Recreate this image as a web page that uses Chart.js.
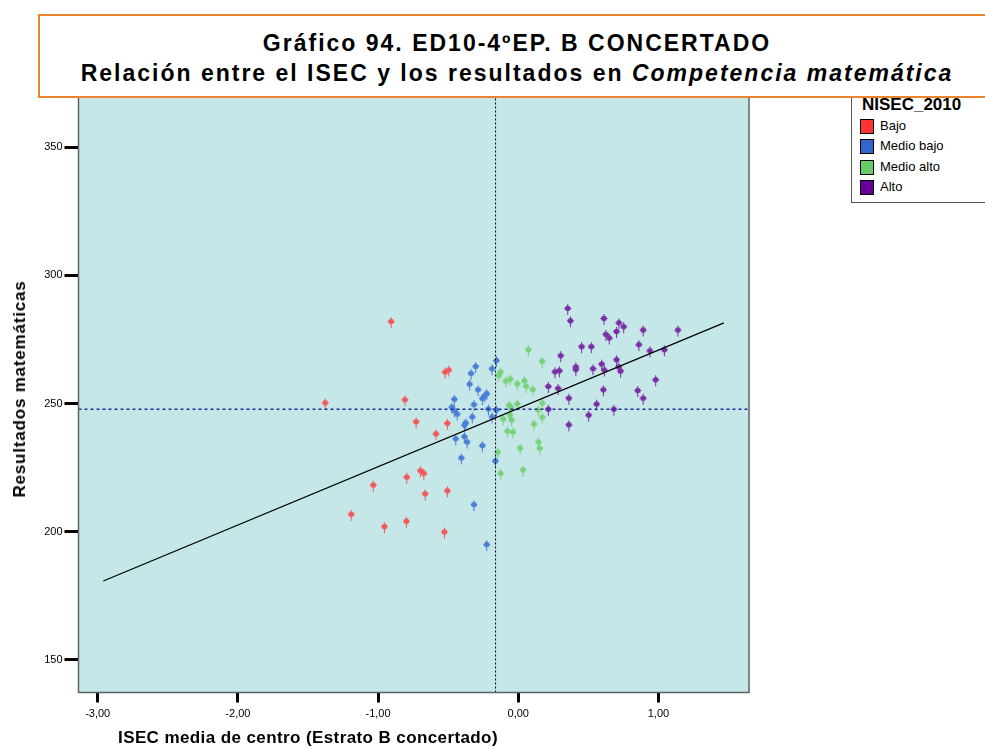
<!DOCTYPE html>
<html>
<head>
<meta charset="utf-8">
<script src="https://cdn.jsdelivr.net/npm/chart.js@4.4.1/dist/chart.umd.min.js"></script>
<style>
  body { margin: 0; background: #fff; font-family: "Liberation Sans", Arial, sans-serif; }
  #wrap { position: relative; width: 985px; height: 749px; overflow: hidden; }
  #chart { position: absolute; left: 0; top: 0; }
  #title {
    position: absolute; left: 38px; top: 14px; width: 954px; height: 68px;
    border: 2px solid #e8842c; background: #fff; text-align: center;
    font-weight: bold; font-size: 23px; line-height: 30px; padding-top: 12px;
    letter-spacing: 2px;
  }
  #title div { white-space: nowrap; }
  #legend {
    position: absolute; left: 851px; top: 90px; width: 150px; height: 111px;
    border: 1px solid #555; background: #fff;
  }
  #legend .head { position: absolute; left: 10px; top: 4px; font-weight: bold; font-size: 17px; line-height: 20px; }
  #legend .item { position: absolute; left: 8px; height: 14px; font-size: 13px; line-height: 14px; }
  #legend .sw { display: inline-block; width: 12px; height: 13px; border: 1px solid #000; vertical-align: top; margin-right: 6px; }
  .axisTitle { position: absolute; font-weight: bold; font-size: 17px; white-space: nowrap; }
</style>
</head>
<body>
<div id="wrap">
  <canvas id="chart" width="985" height="749"></canvas>
  <div id="legend">
    <div class="head">NISEC_2010</div>
  </div>
  <div id="title">
    <div>Gráfico 94. ED10-4ºEP. B CONCERTADO</div>
    <div>Relación entre el ISEC y los resultados en <i>Competencia matemática</i></div>
  </div>
  <div class="axisTitle" id="ytitle" style="left:20px; top:389px; letter-spacing:0.8px; transform: translate(-50%,-50%) rotate(-90deg);">Resultados matemáticas</div>
  <div class="axisTitle" id="xtitle" style="left:308px; top:738px; letter-spacing:0.4px; transform: translate(-50%,-50%);">ISEC media de centro (Estrato B concertado)</div>
</div>
<script>
// groups of NISEC_2010
const groupNames = ['Bajo', 'Medio bajo', 'Medio alto', 'Alto'];

const bajoX = [-1.377, -0.907, -0.808, -0.729, -0.587, -0.522, -0.496, -0.506, -0.698, -0.674, -0.795, -1.034, -0.664, -1.192, -0.955, -0.798, -0.506, -0.527];
const bajoY = [250.3, 282.0, 251.5, 242.9, 238.2, 262.3, 263.1, 242.3, 223.8, 222.8, 221.3, 218.2, 214.8, 206.8, 202.0, 204.1, 216.0, 199.9];

const medioBajoX = [-0.156, -0.304, -0.187, -0.337, -0.347, -0.287, -0.225, -0.239, -0.256, -0.456, -0.316, -0.474, -0.456, -0.436, -0.213, -0.156, -0.328, -0.187, -0.375, -0.384, -0.446, -0.384, -0.365, -0.256, -0.406, -0.163, -0.316, -0.225];
const medioBajoY = [266.8, 264.5, 263.6, 261.8, 257.6, 255.4, 253.9, 253.0, 252.0, 251.7, 249.6, 248.6, 247.2, 245.9, 247.9, 247.5, 244.8, 244.8, 242.5, 241.6, 236.3, 237.1, 235.0, 233.6, 228.8, 227.6, 210.6, 195.0];

const medioAltoX = [0.072, 0.171, -0.126, -0.142, -0.088, -0.057, -0.007, 0.044, 0.056, 0.104, -0.066, -0.052, -0.007, -0.107, -0.059, -0.047, 0.171, 0.143, 0.171, 0.112, -0.078, -0.038, 0.013, 0.143, 0.153, -0.147, -0.126, 0.034];
const medioAltoY = [271.0, 266.5, 262.3, 261.0, 258.8, 259.6, 257.7, 258.9, 256.7, 255.5, 249.4, 248.4, 249.9, 244.0, 245.5, 243.6, 250.2, 247.5, 244.7, 242.0, 239.3, 238.9, 232.6, 235.0, 232.6, 231.0, 222.8, 224.1];

const altoX = [0.353, 0.372, 0.611, 0.718, 0.752, 0.625, 0.649, 0.701, 0.891, 1.139, 0.452, 0.521, 0.860, 0.939, 1.042, 0.303, 0.701, 0.411, 0.411, 0.533, 0.595, 0.614, 0.262, 0.293, 0.716, 0.730, 0.214, 0.284, 0.607, 0.980, 0.852, 0.891, 0.361, 0.559, 0.214, 0.682, 0.502, 0.361];
const altoY = [287.1, 282.3, 283.2, 281.5, 280.0, 277.0, 275.6, 278.1, 278.7, 278.7, 272.2, 272.2, 273.0, 270.6, 271.0, 268.7, 267.1, 264.3, 263.3, 263.6, 265.4, 263.1, 262.4, 262.8, 264.3, 262.7, 256.7, 255.9, 255.4, 259.3, 255.1, 252.1, 252.1, 249.8, 247.8, 247.8, 245.5, 241.7];

// linear fit line and reference means
const fitX = [-2.960, 1.467];
const fitY = [180.8, 281.5];
const meanISEC = -0.162;
const meanScore = 247.8;

const xTicks = [-3, -2, -1, 0, 1];
const yTicks = [150, 200, 250, 300, 350];
const xRange = [-3.137, 1.646];
const yRange = [137.3, 369.6];

const pointColors = ['#f2585a', '#4b7fd6', '#78d27b', '#7b2ea3'];
const legendColors = ['#ff3333', '#3366cc', '#66cc66', '#660099'];

function zip(xs, ys) {
  return xs.map((x, i) => ({ x: x, y: ys[i] }));
}

// SPSS-like marker: small dot with a cross and a stem below
function marker(color) {
  const c = document.createElement('canvas');
  c.width = 9; c.height = 15;
  const g = c.getContext('2d');
  g.fillStyle = color;
  g.fillRect(4, 3, 1, 11);
  g.fillRect(1, 7, 7, 1);
  g.beginPath();
  g.arc(4.5, 7.5, 2.8, 0, Math.PI * 2);
  g.fill();
  return c;
}

// legend entries
const legendEl = document.getElementById('legend');
const rowTops = [28, 48, 69, 89];
groupNames.forEach((name, i) => {
  const d = document.createElement('div');
  d.className = 'item';
  d.style.top = rowTops[i] + 'px';
  d.innerHTML = '<span class="sw" style="background:' + legendColors[i] + '"></span>' + name;
  legendEl.appendChild(d);
});

const plotFrame = {
  id: 'plotFrame',
  beforeDatasetsDraw(chart) {
    const { ctx, chartArea: a } = chart;
    ctx.save();
    ctx.fillStyle = '#c5e7e7';
    ctx.fillRect(a.left, a.top, a.right - a.left, a.bottom - a.top);
    ctx.restore();
  },
  afterDatasetsDraw(chart) {
    const { ctx, chartArea: a } = chart;
    ctx.save();
    ctx.strokeStyle = '#5b6464';
    ctx.lineWidth = 1.5;
    ctx.strokeRect(a.left, a.top, a.right - a.left, a.bottom - a.top);
    ctx.restore();
  }
};

const groups = [[bajoX, bajoY], [medioBajoX, medioBajoY], [medioAltoX, medioAltoY], [altoX, altoY]];

const datasets = groups.map((g, i) => ({
  label: groupNames[i],
  data: zip(g[0], g[1]),
  pointStyle: marker(pointColors[i]),
  pointRadius: 5,
  order: 2
}));

datasets.push({
  label: 'Ajuste',
  data: zip(fitX, fitY),
  showLine: true,
  borderColor: '#000',
  borderWidth: 1.3,
  pointRadius: 0,
  order: 0
});
datasets.push({
  label: 'Media ISEC',
  data: [{ x: meanISEC, y: yRange[0] }, { x: meanISEC, y: yRange[1] }],
  showLine: true,
  borderColor: '#000',
  borderWidth: 1,
  borderDash: [2, 2],
  pointRadius: 0,
  order: 1
});
datasets.push({
  label: 'Media resultados',
  data: [{ x: xRange[0], y: meanScore }, { x: xRange[1], y: meanScore }],
  showLine: true,
  borderColor: '#1f2f9a',
  borderWidth: 1.5,
  borderDash: [3, 3],
  pointRadius: 0,
  order: 1
});

new Chart(document.getElementById('chart').getContext('2d'), {
  type: 'scatter',
  data: { datasets: datasets },
  options: {
    responsive: false,
    animation: false,
    devicePixelRatio: 1,
    layout: { padding: { left: 0, right: 236, top: 97, bottom: 0 } },
    plugins: { legend: { display: false }, tooltip: { enabled: false } },
    scales: {
      x: {
        type: 'linear',
        min: xRange[0],
        max: xRange[1],
        afterBuildTicks: s => { s.ticks = xTicks.map(v => ({ value: v })); },
        afterFit: s => { s.height = 56.5; },
        ticks: {
          color: '#000',
          font: { family: '"Liberation Sans", Arial', size: 11 },
          padding: 5,
          maxRotation: 0,
          callback: v => v.toFixed(2).replace('.', ',')
        },
        grid: { drawOnChartArea: false, tickLength: 10, tickWidth: 3, tickColor: '#000' },
        border: { display: false }
      },
      y: {
        type: 'linear',
        min: yRange[0],
        max: yRange[1],
        afterBuildTicks: s => { s.ticks = yTicks.map(v => ({ value: v })); },
        afterFit: s => { s.width = 78.5; },
        ticks: {
          color: '#000',
          font: { family: '"Liberation Sans", Arial', size: 11 },
          padding: 2,
          callback: v => String(v)
        },
        grid: { drawOnChartArea: false, tickLength: 14, tickWidth: 3, tickColor: '#000' },
        border: { display: false }
      }
    }
  },
  plugins: [plotFrame]
});
</script>
</body>
</html>
